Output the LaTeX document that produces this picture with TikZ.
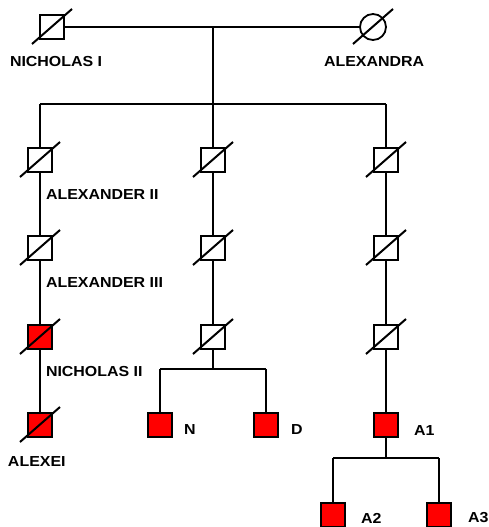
\documentclass[tikz,border=0pt]{standalone}
\usepackage{fontspec}
\newfontfamily\labfont[FakeStretch=1.1]{Liberation Sans}
\begin{document}
\begin{tikzpicture}[x=1pt,y=-1pt,
  line width=2pt,
  male/.style={draw=black, line width=1.8pt, fill=white, minimum size=24pt, inner sep=0pt, outer sep=0pt},
  affected/.style={male, fill=red},
  female/.style={draw=black, line width=1.8pt, fill=white, circle, minimum size=26pt, inner sep=0pt, outer sep=0pt},
  lab/.style={anchor=west, inner sep=0pt, font=\labfont\bfseries\fontsize{14.5}{14.5}\selectfont},
  slash/.style={line width=2pt}]
\useasboundingbox (0,0) rectangle (489,527);
\clip (0,0) rectangle (489,527);

% generation I
\node[male] (ni) at (52,27) {};
\node[female] (al) at (373,27) {};
\draw (ni.east) -- (al.west);
\coordinate (mar) at (213,27);
\coordinate (sib) at (213,104);
\coordinate (sibL) at (40,104);
\coordinate (sibR) at (386,104);
\draw (mar) -- (sib);
\draw (sibL) -- (sibR);

% columns
\node[male] (a2) at (40,160) {};
\node[male] (a3) at (40,248) {};
\node[affected] (n2) at (40,337) {};
\node[affected] (ax) at (40,425) {};
\node[male] (m1) at (213,160) {};
\node[male] (m2) at (213,248) {};
\node[male] (m3) at (213,337) {};
\node[male] (r1) at (386,160) {};
\node[male] (r2) at (386,248) {};
\node[male] (r3) at (386,337) {};
\node[affected] (A1) at (386,425) {};

\draw (sibL) -- (a2.north);
\draw (sib) -- (m1.north);
\draw (sibR) -- (r1.north);
\draw (a2.south) -- (a3.north);
\draw (a3.south) -- (n2.north);
\draw (n2.south) -- (ax.north);
\draw (m1.south) -- (m2.north);
\draw (m2.south) -- (m3.north);
\draw (r1.south) -- (r2.north);
\draw (r2.south) -- (r3.north);
\draw (r3.south) -- (A1.north);

% middle sibship
\node[affected] (N) at (160,425) {};
\node[affected] (D) at (266,425) {};
\coordinate (ms) at (213,369);
\coordinate (msL) at (160,369);
\coordinate (msR) at (266,369);
\draw (m3.south) -- (ms);
\draw (msL) -- (msR);
\draw (msL) -- (N.north);
\draw (msR) -- (D.north);

% right sibship
\node[affected] (A2) at (333,515) {};
\node[affected] (A3) at (439,515) {};
\coordinate (rs) at (386,458);
\coordinate (rsL) at (333,458);
\coordinate (rsR) at (439,458);
\draw (A1.south) -- (rs);
\draw (rsL) -- (rsR);
\draw (rsL) -- (A2.north);
\draw (rsR) -- (A3.north);

% deceased slashes
\foreach \n in {ni,al,a2,a3,n2,ax,m1,m2,m3,r1,r2,r3}{
  \draw[slash] (\n.center) ++(-20,17) -- ++(40,-35);
}

% labels
\node[lab] (lni) at (9,62) {NICHOLAS I};
\node[lab] (lal) at (323,62) {ALEXANDRA};
\node[lab] (la2) at (45,195) {ALEXANDER II};
\node[lab] (la3) at (45,283) {ALEXANDER III};
\node[lab] (ln2) at (45,372) {NICHOLAS II};
\node[lab] (lax) at (7,462) {ALEXEI};
\node[lab] (lN) at (183,430) {N};
\node[lab] (lD) at (290,430) {D};
\node[lab] (lA1) at (413,431) {A1};
\node[lab] (lA2) at (360,518) {A2};
\node[lab] (lA3) at (467,518) {A3};
\end{tikzpicture}
\end{document}
